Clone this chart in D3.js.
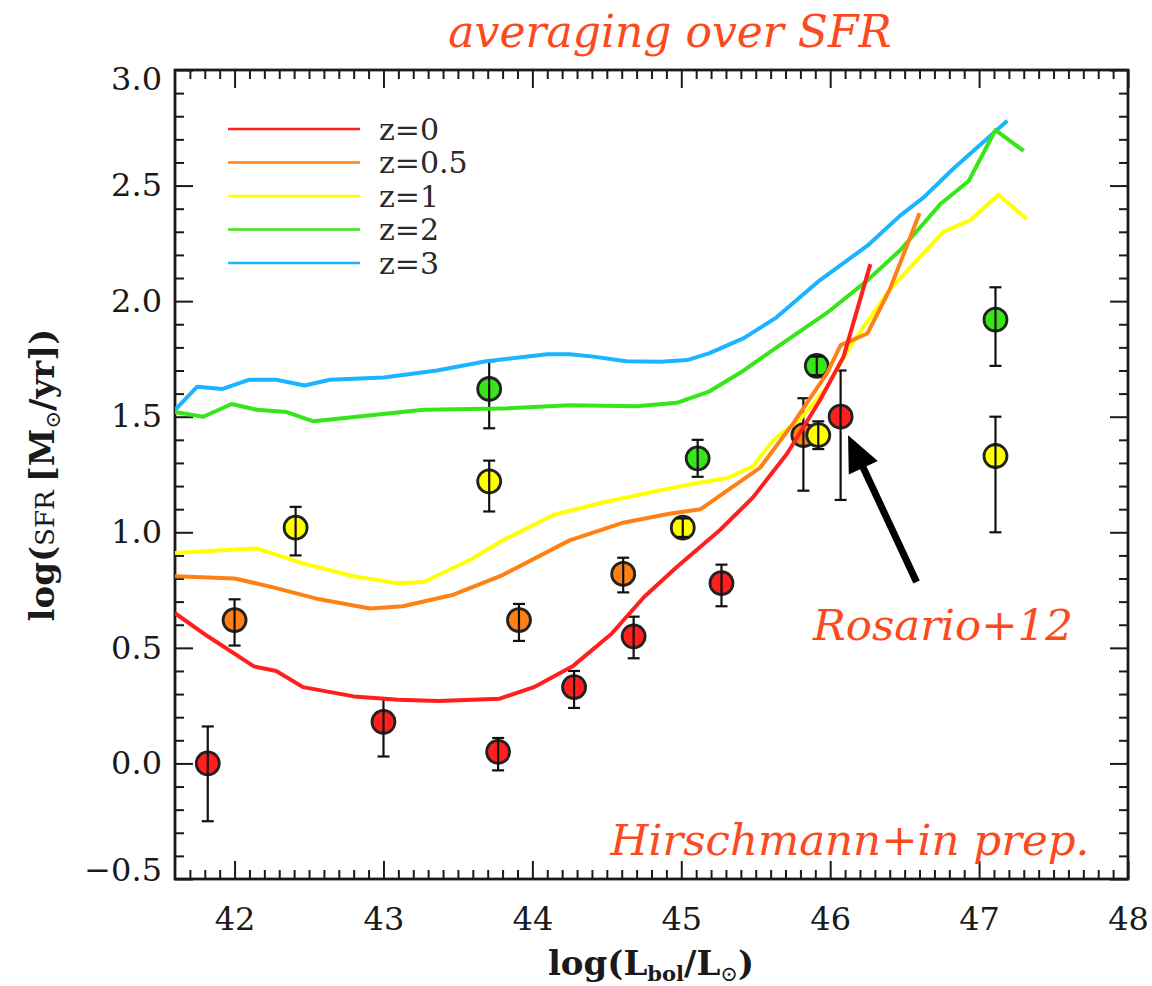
<!DOCTYPE html>
<html><head><meta charset="utf-8">
<script src="https://cdn.jsdelivr.net/npm/d3@7"></script>
<style>body{margin:0;background:#fff}svg{display:block}</style>
</head><body>
<svg id="chart" width="1152" height="986"></svg>
<script>
// ---------- data ----------
const redshiftLabels = ["z=0", "z=0.5", "z=1", "z=2", "z=3"];
const redshiftColors = ["#ff1f1f", "#ff8014", "#ffff00", "#36e618", "#1ab4ff"];

const lum_z0 = [41.60,41.82,42.13,42.28,42.46,42.80,43.10,43.37,43.78,44.01,44.27,44.53,44.75,44.97,45.26,45.48,45.71,45.93,46.09,46.27];
const sfr_z0 = [0.65,0.55,0.42,0.40,0.33,0.29,0.275,0.27,0.28,0.33,0.42,0.56,0.72,0.85,1.01,1.15,1.34,1.57,1.76,2.16];

const lum_z05 = [41.60,42.00,42.24,42.57,42.91,43.13,43.47,43.80,44.25,44.60,44.92,45.13,45.53,45.75,45.98,46.07,46.25,46.40,46.60];
const sfr_z05 = [0.81,0.80,0.765,0.71,0.67,0.68,0.73,0.815,0.965,1.04,1.08,1.10,1.28,1.47,1.69,1.81,1.86,2.05,2.38];

const lum_z1 = [41.60,42.01,42.15,42.46,42.80,43.09,43.27,43.58,43.80,44.14,44.48,44.92,45.08,45.31,45.48,45.62,45.80,45.98,46.13,46.40,46.76,46.94,47.13,47.32];
const sfr_z1 = [0.91,0.925,0.93,0.865,0.81,0.78,0.785,0.88,0.965,1.075,1.13,1.19,1.21,1.235,1.285,1.40,1.49,1.63,1.80,2.05,2.30,2.35,2.46,2.355];

const lum_z2 = [41.60,41.79,41.98,42.15,42.35,42.53,42.82,43.27,43.80,44.25,44.70,44.97,45.19,45.42,45.64,45.98,46.25,46.47,46.74,46.93,47.11,47.30];
const sfr_z2 = [1.52,1.50,1.555,1.53,1.52,1.48,1.50,1.53,1.535,1.55,1.545,1.56,1.61,1.70,1.80,1.95,2.09,2.22,2.42,2.52,2.74,2.65];

const lum_z3 = [41.60,41.75,41.92,42.10,42.28,42.47,42.64,43.00,43.36,43.69,44.10,44.25,44.41,44.63,44.86,45.04,45.19,45.42,45.64,45.93,46.25,46.47,46.63,46.83,47.19];
const sfr_z3 = [1.53,1.63,1.62,1.66,1.66,1.635,1.66,1.67,1.70,1.74,1.77,1.77,1.76,1.74,1.738,1.745,1.775,1.84,1.93,2.09,2.24,2.37,2.45,2.575,2.78];

// observed points (Rosario+12): luminosity, SFR, lower and upper error-bar ends, redshift index
const obsLum = [41.82,43.00,43.77,44.28,44.68,45.27,46.07, 42.00,43.91,44.61,45.82, 42.41,43.71,45.01,45.92,47.11, 43.71,45.11,45.91,47.11];
const obsSfr = [0.00,0.18,0.05,0.33,0.55,0.78,1.50, 0.62,0.62,0.82,1.42, 1.02,1.22,1.02,1.42,1.33, 1.62,1.32,1.72,1.92];
const obsLo  = [-0.25,0.03,-0.03,0.24,0.455,0.68,1.14, 0.51,0.53,0.74,1.18, 0.90,1.09,0.98,1.36,1.00, 1.45,1.24,1.68,1.72];
const obsHi  = [0.16,0.28,0.11,0.40,0.635,0.86,1.70, 0.71,0.69,0.89,1.58, 1.11,1.31,1.06,1.48,1.50, 1.74,1.40,1.76,2.06];
const obsZ   = [0,0,0,0,0,0,0, 1,1,1,1, 2,2,2,2,2, 3,3,3,3];

const xTickValues = [42,43,44,45,46,47,48];
const yTickValues = [-0.5,0,0.5,1.0,1.5,2.0,2.5,3.0];

// annotation arrow (data coordinates): tail -> tip
const arrowLum = [46.58, 46.12];
const arrowSfr = [0.785, 1.42];

// ---------- layout ----------
const L = 175, R = 1128, T = 70, B = 879;
const svg = d3.select("#chart");
const x = d3.scaleLinear().domain([41.6, 48]).range([L, R]);
const y = d3.scaleLinear().domain([-0.5, 3.0]).range([B, T]);

const tickFont = "DejaVu Serif, serif";
const ink = "#1a1a1a";

// minor ticks
const xMinor = d3.range(41.7, 48.0001, 0.1).map(v => +v.toFixed(1)).filter(v => Math.abs(v - Math.round(v)) > 1e-6);
const yMinor = d3.range(-0.4, 3.0, 0.1).map(v => +v.toFixed(1)).filter(v => Math.abs(v*2 - Math.round(v*2)) > 1e-6);

function styleAxis(g) {
  g.selectAll(".domain").remove();
  g.selectAll(".tick line").attr("stroke", ink).attr("stroke-width", 2);
}

// bottom
svg.append("g").attr("transform", `translate(0,${B})`)
  .call(d3.axisBottom(x).tickValues(xMinor).tickSize(-9).tickFormat("")).call(styleAxis);
const xAx = svg.append("g").attr("transform", `translate(0,${B})`)
  .call(d3.axisBottom(x).tickValues(xTickValues).tickSize(-18).tickPadding(28).tickFormat(d3.format("d"))).call(styleAxis);
xAx.selectAll("text").attr("font-family", tickFont).attr("font-size", 32).attr("fill", ink);
// top
svg.append("g").attr("transform", `translate(0,${T})`)
  .call(d3.axisTop(x).tickValues(xMinor).tickSize(-9).tickFormat("")).call(styleAxis);
svg.append("g").attr("transform", `translate(0,${T})`)
  .call(d3.axisTop(x).tickValues(xTickValues).tickSize(-18).tickFormat("")).call(styleAxis);
// left
svg.append("g").attr("transform", `translate(${L},0)`)
  .call(d3.axisLeft(y).tickValues(yMinor).tickSize(-9).tickFormat("")).call(styleAxis);
const yAx = svg.append("g").attr("transform", `translate(${L},0)`)
  .call(d3.axisLeft(y).tickValues(yTickValues).tickSize(-18).tickPadding(13)
  .tickFormat(d => (d < 0 ? "\u2212" : "") + Math.abs(d).toFixed(1))).call(styleAxis);
yAx.selectAll("text").attr("font-family", tickFont).attr("font-size", 32).attr("fill", ink)
  .attr("dy", d => d === 3.0 ? "0.62em" : (d === -0.5 ? "0.05em" : "0.32em"));
// right
svg.append("g").attr("transform", `translate(${R},0)`)
  .call(d3.axisRight(y).tickValues(yMinor).tickSize(-9).tickFormat("")).call(styleAxis);
svg.append("g").attr("transform", `translate(${R},0)`)
  .call(d3.axisRight(y).tickValues(yTickValues).tickSize(-18).tickFormat("")).call(styleAxis);

// frame
svg.append("rect").attr("x", L).attr("y", T).attr("width", R - L).attr("height", B - T)
  .attr("fill", "none").attr("stroke", ink).attr("stroke-width", 2.8);

// clip
svg.append("clipPath").attr("id", "clip").append("rect")
  .attr("x", L).attr("y", T).attr("width", R - L).attr("height", B - T);
const plot = svg.append("g").attr("clip-path", "url(#clip)");

// observed points
const pts = obsLum.map((v, i) => ({lx: v, s: obsSfr[i], lo: obsLo[i], hi: obsHi[i], z: obsZ[i]}));
plot.append("g").selectAll("circle").data(pts).join("circle")
  .attr("cx", d => x(d.lx)).attr("cy", d => y(d.s)).attr("r", 11.5)
  .attr("fill", d => redshiftColors[d.z]).attr("stroke", "#222").attr("stroke-width", 2.8);
const eb = plot.append("g").attr("stroke", "#111").attr("stroke-width", 2.2).attr("fill", "none");
pts.forEach(d => {
  const cx = x(d.lx);
  eb.append("line").attr("x1", cx).attr("x2", cx).attr("y1", y(d.lo)).attr("y2", y(d.hi));
  eb.append("line").attr("x1", cx - 6).attr("x2", cx + 6).attr("y1", y(d.lo)).attr("y2", y(d.lo));
  eb.append("line").attr("x1", cx - 6).attr("x2", cx + 6).attr("y1", y(d.hi)).attr("y2", y(d.hi));
});

// model curves
const curves = [[lum_z0, sfr_z0], [lum_z05, sfr_z05], [lum_z1, sfr_z1], [lum_z2, sfr_z2], [lum_z3, sfr_z3]];
const line = d3.line().x(d => x(d[0])).y(d => y(d[1])).curve(d3.curveLinear);
const drawOrder = [4, 3, 2, 1, 0];
drawOrder.forEach(k => {
  const [lx, sv] = curves[k];
  plot.append("path").datum(lx.map((v, i) => [v, sv[i]]))
    .attr("d", line).attr("fill", "none").attr("stroke", redshiftColors[k])
    .attr("stroke-width", 4).attr("stroke-linejoin", "round").attr("stroke-linecap", "butt");
});

// legend
const leg = svg.append("g");
redshiftLabels.forEach((lab, i) => {
  const yy = 129 + i * 33.5;
  leg.append("line").attr("x1", 228).attr("x2", 360).attr("y1", yy).attr("y2", yy)
    .attr("stroke", redshiftColors[i]).attr("stroke-width", 2.6);
  leg.append("text").attr("x", 379).attr("y", yy).attr("dy", "0.36em")
    .attr("font-family", tickFont).attr("font-size", 30).attr("fill", "#2a2a2a").text(lab);
});

// arrow
{
  const x0 = x(arrowLum[0]), y0 = y(arrowSfr[0]), x1 = x(arrowLum[1]), y1 = y(arrowSfr[1]);
  const dx = x1 - x0, dy = y1 - y0, len = Math.hypot(dx, dy), ux = dx / len, uy = dy / len;
  const headLen = 36, headHalf = 16;
  const bx = x1 - ux * headLen, by = y1 - uy * headLen;
  svg.append("line").attr("x1", x0).attr("y1", y0).attr("x2", bx + ux * 2).attr("y2", by + uy * 2)
    .attr("stroke", "#000").attr("stroke-width", 7);
  svg.append("polygon").attr("fill", "#000")
    .attr("points", [[x1, y1], [bx - uy * headHalf, by + ux * headHalf], [bx + uy * headHalf, by - ux * headHalf]].map(p => p.join(",")).join(" "));
}

// annotations
const annoColor = "#fb4a1e";
const annoFont = "DejaVu Serif, serif";
svg.append("text").attr("x", 670).attr("y", 47).attr("text-anchor", "middle")
  .attr("font-family", annoFont).attr("font-style", "italic").attr("font-size", 44)
  .attr("fill", annoColor).text("averaging over SFR");
svg.append("text").attr("x", 943).attr("y", 640).attr("text-anchor", "middle")
  .attr("font-family", annoFont).attr("font-style", "italic").attr("font-size", 43.5)
  .attr("fill", annoColor).text("Rosario+12");
svg.append("text").attr("x", 850).attr("y", 855).attr("text-anchor", "middle")
  .attr("font-family", annoFont).attr("font-style", "italic").attr("font-size", 43.5)
  .attr("fill", annoColor).text("Hirschmann+in prep.");

// axis titles
const xt = svg.append("text").attr("x", 651).attr("y", 975).attr("text-anchor", "middle")
  .attr("font-family", tickFont).attr("font-size", 34).attr("font-weight", "bold").attr("fill", ink);
xt.append("tspan").text("log(L");
xt.append("tspan").attr("font-size", 21).attr("dy", 6).text("bol");
xt.append("tspan").attr("dy", -6).text("/L");
xt.append("tspan").attr("font-size", 21).attr("dy", 6).attr("font-weight", "normal").text("\u2299");
xt.append("tspan").attr("dy", -6).text(")");

const yt = svg.append("text").attr("transform", "translate(54,475) rotate(-90)").attr("text-anchor", "middle")
  .attr("font-family", tickFont).attr("font-size", 34).attr("fill", ink);
yt.append("tspan").attr("font-weight", "bold").text("log(");
yt.append("tspan").attr("font-size", 26).text("SFR ");
yt.append("tspan").attr("font-weight", "bold").text("[M");
yt.append("tspan").attr("font-size", 21).attr("dy", 6).text("\u2299");
yt.append("tspan").attr("font-weight", "bold").attr("dy", -6).text("/yr])");
</script>
</body></html>
